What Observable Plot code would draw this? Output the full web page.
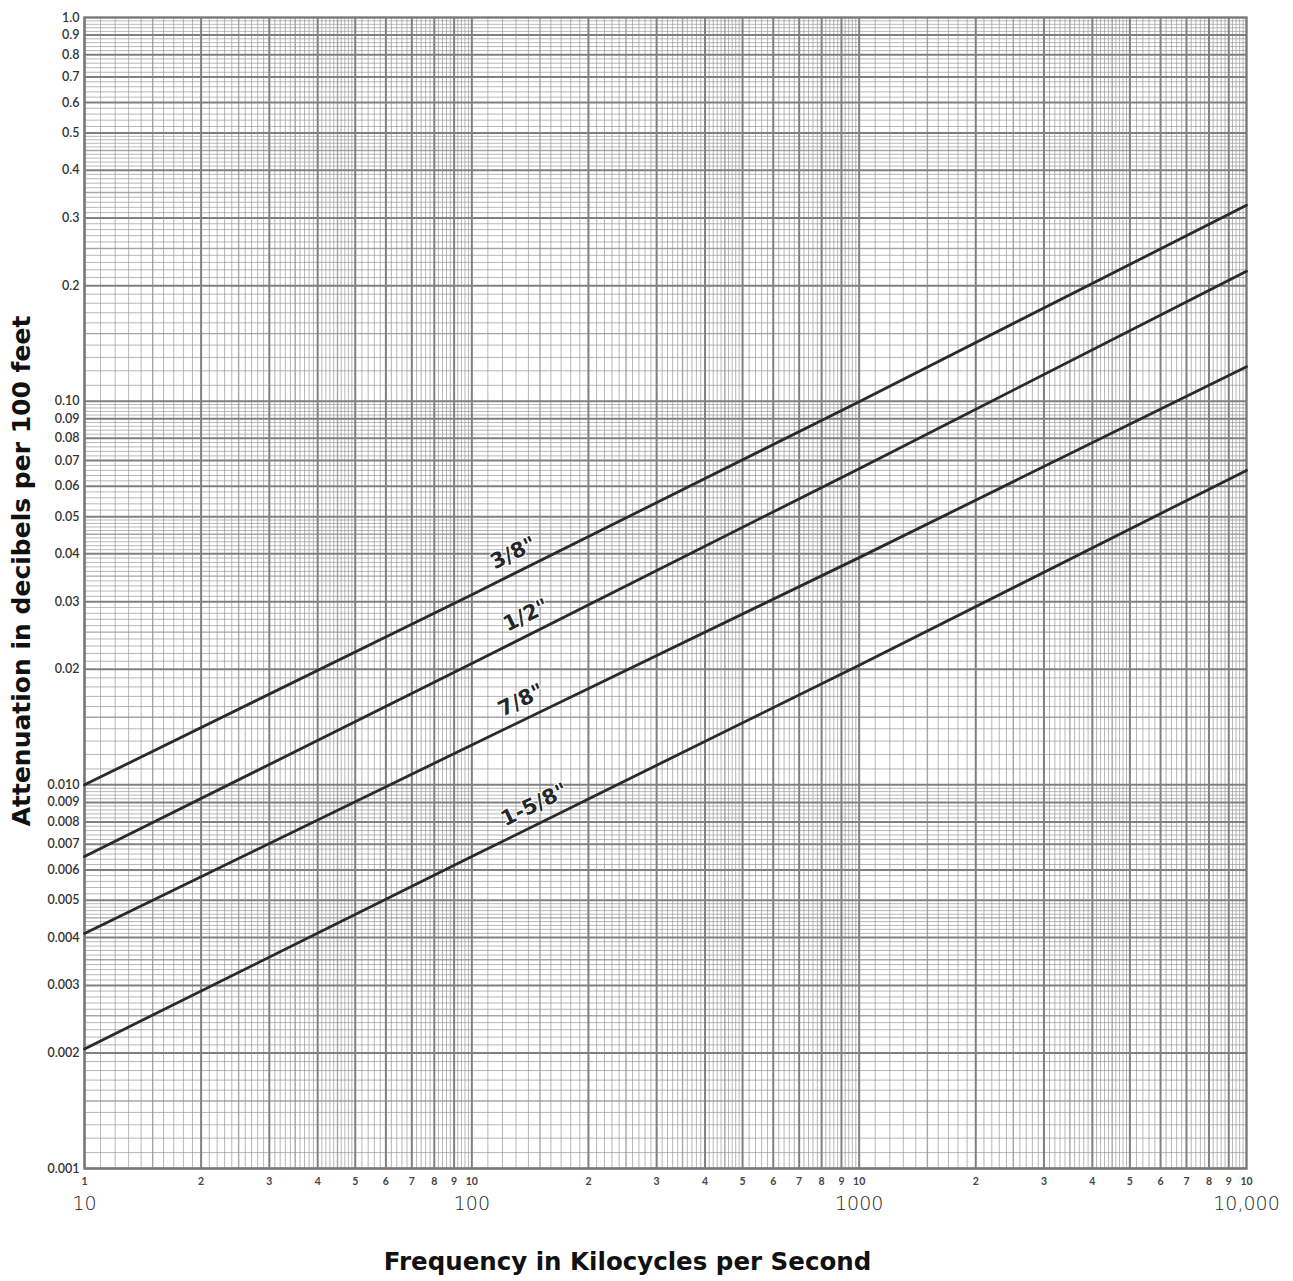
<!DOCTYPE html>
<html>
<head>
<meta charset="utf-8">
<script src="https://cdn.jsdelivr.net/npm/d3@7"></script>
<script src="https://cdn.jsdelivr.net/npm/@observablehq/plot@0.6"></script>
<style>
  html, body { margin: 0; padding: 0; background: #fff; }
  #chart { width: 1293px; height: 1281px; }
</style>
</head>
<body>
<div id="chart"></div>
<script>
// ---- Data ----
const freqs = [10, 100, 1000, 10000];            // kc/s
const att38  = [0.0100, 0.0313, 0.0997, 0.324];   // 3/8"
const att12  = [0.0065, 0.0207, 0.0667, 0.218];   // 1/2"
const att78  = [0.0041, 0.0127, 0.0391, 0.123];   // 7/8"
const att158 = [0.00205, 0.0065, 0.0205, 0.066];  // 1-5/8"
const seriesNames = ['3/8"', '1/2"', '7/8"', '1-5/8"'];
const seriesValues = [att38, att12, att78, att158];
const labelFreqs = [128, 138, 134, 145];

// Tick labels
const yTickLabels = ["0.001","0.002","0.003","0.004","0.005","0.006","0.007","0.008","0.009","0.010",
  "0.02","0.03","0.04","0.05","0.06","0.07","0.08","0.09","0.10",
  "0.2","0.3","0.4","0.5","0.6","0.7","0.8","0.9","1.0"];
const decadeStarts = [10, 100, 1000];
const digitLabels = ["1","2","3","4","5","6","7","8","9","10"];
const xMajorValues = [10, 100, 1000, 10000];
const xMajorLabels = ["10", "100", "1000", "10,000"];
const yTitle = "Attenuation in decibels per 100 feet";
const xTitle = "Frequency in Kilocycles per Second";

// Graph-paper grid mantissas
const majorMant = [1,2,3,4,5,6,7,8,9];
const midMant = [1.5, 2.5, 3.5, 4.5];
const minorMant = [];
for (let m = 1.1; m < 4.95; m += 0.1) { const r = Math.round(m*10)/10; if (!Number.isInteger(r) && !midMant.includes(r)) minorMant.push(r); }
for (let m = 5.2; m < 9.95; m += 0.2) { const r = Math.round(m*10)/10; if (!Number.isInteger(r)) minorMant.push(r); }

// ---- Build tables ----
const lineData = [];
seriesNames.forEach((name, i) => freqs.forEach((f, j) => lineData.push({series: name, f, a: seriesValues[i][j]})));

function interpLog(fx, vals) {
  const lx = Math.log10(fx);
  for (let j = 0; j < freqs.length - 1; j++) {
    const l0 = Math.log10(freqs[j]), l1 = Math.log10(freqs[j+1]);
    if (lx >= l0 && lx <= l1) {
      const t = (lx - l0) / (l1 - l0);
      return Math.pow(10, Math.log10(vals[j]) + t * (Math.log10(vals[j+1]) - Math.log10(vals[j])));
    }
  }
  return vals[0];
}
const labelData = seriesNames.map((name, i) => ({name, f: labelFreqs[i], a: interpLog(labelFreqs[i], seriesValues[i])}));

const xDecades = [10, 100, 1000];
const yDecades = [0.001, 0.01, 0.1];
const gx = (mants) => xDecades.flatMap(d => mants.map(m => d * m));
const gy = (mants) => yDecades.flatMap(d => mants.map(m => d * m));

const yTicks = yTickLabels.map(t => ({v: +t, t}));
const xSmall = [];
decadeStarts.forEach((d, k) => digitLabels.forEach((t, i) => {
  if (k > 0 && i === 0) return;
  xSmall.push({v: d * (i + 1), t});
}));
const xBig = xMajorValues.map((v, i) => ({v, t: xMajorLabels[i]}));

const gridColor = "#909090";

const chart = Plot.plot({
  width: 1293,
  height: 1281,
  marginLeft: 84,
  marginRight: 47,
  marginTop: 17,
  marginBottom: 113,
  style: {background: "#fff", fontFamily: "Lato, 'DejaVu Sans', sans-serif"},
  x: {type: "log", domain: [10, 10000], axis: null},
  y: {type: "log", domain: [0.001, 1], axis: null},
  marks: [
    // minor grid
    Plot.ruleX(gx(minorMant), {stroke: gridColor, strokeWidth: 1, strokeOpacity: 0.65}),
    Plot.ruleY(gy(minorMant), {stroke: gridColor, strokeWidth: 1, strokeOpacity: 0.65}),
    Plot.ruleX(gx(midMant), {stroke: gridColor, strokeWidth: 1.4, strokeOpacity: 0.8}),
    Plot.ruleY(gy(midMant), {stroke: gridColor, strokeWidth: 1.4, strokeOpacity: 0.8}),
    Plot.ruleX(gx(majorMant), {stroke: "#808080", strokeWidth: 2}),
    Plot.ruleY(gy(majorMant), {stroke: "#808080", strokeWidth: 2}),
    Plot.frame({stroke: "#7a7a7a", strokeWidth: 2.4}),
    // curves
    Plot.line(lineData, {x: "f", y: "a", z: "series", stroke: "#2a2a2a", strokeWidth: 2.8}),
    // curve labels
    Plot.text(labelData, {x: "f", y: "a", text: "name", rotate: -26, dy: -21,
      fontSize: 21, fontWeight: "bold", fill: "#262626", stroke: "#fff", strokeWidth: 2, paintOrder: "stroke",
      fontFamily: "'DejaVu Sans', sans-serif"}),
    // y tick labels
    Plot.text(yTicks, {x: 10, y: "v", text: "t", dx: -5, textAnchor: "end", fontSize: 12.5, fill: "#333", fontWeight: 600}),
    // x small tick labels
    Plot.text(xSmall, {x: "v", y: 0.001, text: "t", dy: 13, fontSize: 10.5, fontWeight: "bold", fill: "#444"}),
    // x big labels
    Plot.text(xBig, {x: "v", y: 0.001, text: "t", dy: 35, fontSize: 19, fill: "#222", fontFamily: "'DejaVu Sans', sans-serif", fontWeight: 300}),
    // axis titles
    Plot.text([yTitle], {frameAnchor: "left", textAnchor: "middle", lineAnchor: "middle", rotate: -90, dx: -63, dy: -22,
      fontSize: 25, fontWeight: "bold", fill: "#111", fontFamily: "'DejaVu Sans', sans-serif"}),
    Plot.text([xTitle], {frameAnchor: "bottom", textAnchor: "middle", lineAnchor: "middle", dy: 94, dx: -38,
      fontSize: 24.5, fontWeight: "bold", fill: "#111", fontFamily: "'DejaVu Sans', sans-serif"})
  ]
});
document.getElementById("chart").appendChild(chart);
</script>
</body>
</html>
